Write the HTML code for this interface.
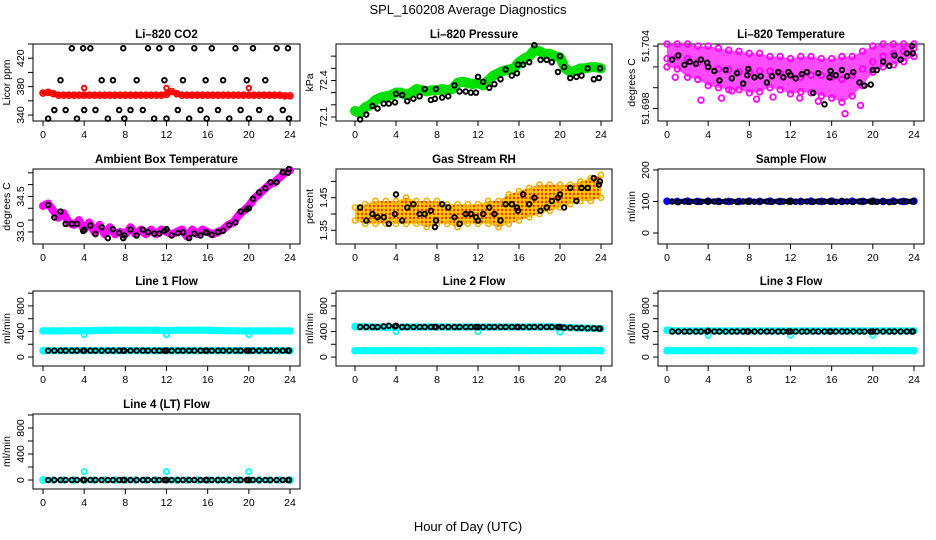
<!DOCTYPE html>
<html><head><meta charset="utf-8"><style>
html,body{margin:0;padding:0;background:#fff;}
svg{display:block;font-family:"Liberation Sans",sans-serif;}
</style></head><body>
<svg id="c" width="936" height="540" viewBox="0 0 936 540" xmlns="http://www.w3.org/2000/svg">
<defs>
<pattern id="rhdots" width="4" height="4" patternUnits="userSpaceOnUse"><rect width="4" height="4" fill="#f8c800"/><circle cx="2" cy="2" r="1.2" fill="#f03010"/></pattern>
</defs>
<text x="468" y="14" text-anchor="middle" font-size="13">SPL_160208  Average Diagnostics</text>
<text x="468" y="531" text-anchor="middle" font-size="13">Hour of Day (UTC)</text>
</svg>
<script>
// ---- data ----
const H = [0.5,1.1,1.7,2.2,2.8,3.3,3.9,4.0,4.6,5.1,5.7,6.3,6.8,7.4,7.8,7.9,8.5,9.1,9.7,10.2,10.8,11.3,11.8,12.0,12.5,13.1,13.6,14.2,14.7,15.3,15.8,15.9,16.4,17.0,17.5,18.1,18.7,19.2,19.8,20.0,20.4,21.0,21.6,22.1,22.7,23.3,23.8,23.9];
const HH = [0,0.5,1,1.5,2,2.5,3,3.5,4,4.5,5,5.5,6,6.5,7,7.5,8,8.5,9,9.5,10,10.5,11,11.5,12,12.5,13,13.5,14,14.5,15,15.5,16,16.5,17,17.5,18,18.5,19,19.5,20,20.5,21,21.5,22,22.5,23,23.5,24];
const HR = [0,1,2,3,4,5,6,7,8,9,10,11,12,13,14,15,16,17,18,19,20,21,22,23,24];
const xTicks = [0,4,8,12,16,20,24];
const outH = [4,12,20];

const co2Black = [335,347,389,347,434,335,434,347,434,347,389,335,389,347,434,335,347,389,347,434,335,434,389,335,434,347,389,335,434,347,389,335,434,347,389,335,434,347,389,335,434,347,389,335,434,347,434,335];
const co2Red = [371,372,370,368,368,368,368,368,368,368,368,368,368,368,368,368,368,368,368,368,368,368,368,368,369,373,370,368,368,368,368,368,368,368,368,368,368,368,368,368,368,368,368,368,368,368,368,367,367];
const co2Out = [378,378,378];

const presBlack = [72.08,72.12,72.19,72.17,72.21,72.21,72.22,72.29,72.28,72.23,72.25,72.27,72.33,72.24,72.25,72.33,72.26,72.27,72.36,72.31,72.31,72.30,72.30,72.43,72.39,72.34,72.37,72.41,72.49,72.44,72.46,72.53,72.53,72.55,72.69,72.57,72.57,72.55,72.47,72.60,72.51,72.42,72.43,72.44,72.50,72.41,72.42,72.50];
const presGreen = [72.15,72.13,72.18,72.2,72.24,72.26,72.27,72.28,72.3,72.3,72.28,72.3,72.33,72.32,72.31,72.32,72.32,72.33,72.32,72.33,72.38,72.39,72.38,72.37,72.38,72.36,72.4,72.44,72.46,72.48,72.49,72.5,72.55,72.58,72.6,72.65,72.64,72.62,72.62,72.6,72.59,72.5,72.47,72.48,72.5,72.5,72.51,72.51,72.5];

const tempBlack = [51.7027,51.7031,51.7022,51.7025,51.7023,51.7027,51.7024,51.7020,51.7016,51.7007,51.7017,51.7009,51.7014,51.7004,51.7012,51.7018,51.7010,51.7011,51.7005,51.7011,51.7015,51.7010,51.7015,51.7012,51.7009,51.7013,51.7015,51.6995,51.7014,51.6984,51.7010,51.7016,51.7012,51.7017,51.7011,51.7015,51.7005,51.7002,51.7003,51.7017,51.7017,51.7025,51.7021,51.7031,51.7027,51.7033,51.7040,51.7033];
const tempHi = [51.7042,51.7042,51.7042,51.7040,51.7040,51.7038,51.7036,51.7035,51.7033,51.7033,51.7030,51.7030,51.7028,51.7030,51.7030,51.7028,51.7028,51.7030,51.7030,51.7035,51.7040,51.7042,51.7042,51.7042,51.7042];
const tempMid = [51.7028,51.7030,51.7028,51.7024,51.7020,51.7018,51.7017,51.7015,51.7015,51.7016,51.7016,51.7014,51.7012,51.7010,51.7012,51.7012,51.7010,51.7008,51.7012,51.7018,51.7025,51.7030,51.7033,51.7035,51.7038];
const tempLo = [51.7020,51.7018,51.7010,51.7008,51.7002,51.7000,51.6998,51.6998,51.6995,51.6996,51.7000,51.6998,51.6994,51.6996,51.6995,51.6992,51.6990,51.6986,51.6992,51.7002,51.7015,51.7020,51.7022,51.7025,51.7030];
const tempStrayH = [0.8,3.3,5.3,6.3,8.7,10.3,12.9,14.7,17.3,18.8];
const tempStray = [51.7010,51.6988,51.6990,51.6997,51.6989,51.6991,51.6990,51.6987,51.6975,51.6983];

const ambBlack = [34.14,33.61,33.86,33.34,33.34,33.34,33.04,33.1,33.27,32.91,33.2,32.74,33.12,32.96,32.74,32.85,33.1,32.85,33.1,32.99,32.93,32.93,33.05,33.12,32.85,32.95,32.98,32.74,32.93,32.85,32.98,32.97,32.88,32.99,33.05,33.3,33.4,33.86,33.95,34.0,34.4,34.67,34.84,35.1,35.1,35.52,35.5,35.66];
const ambMag = [34.1,34.2,33.9,33.6,33.8,33.4,33.3,33.5,33.1,33.4,33.0,33.3,32.9,33.2,32.9,33.0,32.9,33.2,32.9,33.1,32.9,33.1,32.9,33.1,33.0,32.9,33.0,33.1,32.8,33.1,32.9,33.1,33.0,32.9,33.0,33.1,33.3,33.4,33.7,33.9,34.1,34.4,34.6,34.8,35.0,35.1,35.3,35.5,35.6];

const rhBlack = [1.42,1.38,1.40,1.39,1.39,1.37,1.40,1.46,1.38,1.42,1.43,1.40,1.40,1.41,1.36,1.38,1.43,1.42,1.39,1.37,1.40,1.40,1.39,1.38,1.40,1.42,1.40,1.38,1.43,1.43,1.42,1.41,1.46,1.43,1.45,1.41,1.42,1.44,1.45,1.46,1.42,1.48,1.44,1.48,1.48,1.51,1.49,1.50];
const rhHi = [1.42,1.43,1.44,1.44,1.44,1.45,1.44,1.44,1.44,1.43,1.43,1.43,1.43,1.44,1.44,1.46,1.47,1.48,1.49,1.49,1.49,1.49,1.50,1.51,1.52];
const rhLo = [1.38,1.37,1.37,1.37,1.37,1.37,1.37,1.36,1.37,1.37,1.36,1.37,1.37,1.37,1.36,1.37,1.38,1.39,1.40,1.41,1.42,1.43,1.44,1.44,1.45];

const sampleBlack = [100,98,100,99,100,99,100,100,100,99,100,100,99,100,100,100,99,100,100,99,100,100,100,100,99,100,100,99,100,100,100,100,99,100,100,99,100,100,100,100,99,100,98,99,100,100,100,100];
const sampleBlue = [101,100,101,100,101,100,100,100,101,100,101,100,101,100,101,100,101,100,101,100,101,100,101,100,101];

const l1Black = [100,100,100,100,100,100,100,100,100,100,100,100,100,100,100,100,100,100,100,100,100,100,100,100,100,100,100,100,100,100,100,100,100,100,100,100,100,100,100,100,100,100,100,100,100,100,100,100];
const l1CyanHi = [410,410,410,412,412,415,420,420,420,420,420,420,415,420,420,420,420,415,412,410,410,410,410,410,410];
const l1CyanLo = [100,100,100,100,100,100,100,100,100,100,100,100,100,100,100,100,100,100,100,100,100,100,100,100,100];
const l1Out = [350,350,350];

const l2Black = [470,470,470,470,480,490,480,490,470,470,470,470,470,470,470,470,470,470,470,470,470,470,470,470,470,470,470,470,470,470,470,470,470,470,470,470,470,470,470,470,460,460,455,455,450,450,445,445];
const l2CyanHi = [475,472,470,465,465,470,470,470,470,470,470,470,470,470,470,470,470,470,470,475,465,460,455,450,445];
const l2CyanLo = [100,100,100,100,100,100,100,100,100,100,100,100,100,100,100,100,100,100,100,100,100,100,100,100,100];
const l2Out = [400,400,390];

const l3Black = [400,400,400,400,400,400,400,410,400,400,400,400,400,400,400,400,400,400,400,400,400,400,400,400,400,400,400,400,400,400,400,400,400,400,400,400,400,400,400,400,400,400,400,400,400,400,400,400];
const l3CyanHi = [420,410,410,410,410,410,410,410,410,410,410,410,410,410,410,410,410,410,410,410,410,410,410,410,410];
const l3CyanLo = [100,100,100,100,100,100,100,100,100,100,100,100,100,100,100,100,100,100,100,100,100,100,100,100,100];
const l3Out = [340,340,340];

const l4Black = [0,0,0,0,0,0,0,0,0,0,0,0,0,0,0,0,0,0,0,0,0,0,0,0,0,0,0,0,0,0,0,0,0,0,0,0,0,0,0,0,0,0,0,0,0,0,0,0];
const l4Cyan = [0,0,0,0,0,0,0,0,0,0,0,0,0,0,0,0,0,0,0,0,0,0,0,0,0];
const l4Out = [130,130,130];

// ---- drawing ----
const NS = "http://www.w3.org/2000/svg";
const svg = document.getElementById('c');
const COLS = [{bx:33,bw:267,x0:43,x24:290},{bx:336,bw:276,x0:355,x24:601},{bx:658,bw:266,x0:667,x24:914}];
const ROWS = [{t:44,b:121},{t:169,b:244},{t:291,b:366},{t:414,b:489}];
function mk(tag, attrs, parent){const e=document.createElementNS(NS,tag);for(const k in attrs)e.setAttribute(k,attrs[k]);(parent||svg).appendChild(e);return e;}

function panel(key,c,r,title,ylab,ymin,ymax,ticks,labels){
  const C=COLS[c],R=ROWS[r];
  const g=mk('g',{});
  
  
  const x=h=>C.x0+(C.x24-C.x0)*h/24;
  const y=v=>R.b-(v-ymin)/(ymax-ymin)*(R.b-R.t);
  const box=mk('rect',{x:C.bx,y:R.t,width:C.bw,height:R.b-R.t,fill:'none',stroke:'#000','stroke-width':1},g);
  
  
  const tt=mk('text',{x:C.bx+C.bw/2,y:R.t-6,'text-anchor':'middle','font-size':11.5,'font-weight':'bold'},g);
  tt.textContent=title;
  
  
  const xa=mk('g',{},g);
  
  
  mk('line',{x1:x(0),x2:x(24),y1:R.b,y2:R.b,stroke:'#000'},xa);
  xTicks.forEach(t=>{
    mk('line',{x1:x(t),x2:x(t),y1:R.b,y2:R.b+5,stroke:'#000'},xa);
    const tl=mk('text',{x:x(t),y:R.b+17,'text-anchor':'middle','font-size':10.5},xa);
    tl.textContent=t;
    
    
  });
  const ya=mk('g',{},g);
  
  
  mk('line',{x1:C.bx,x2:C.bx,y1:y(ticks[0]),y2:y(ticks[ticks.length-1]),stroke:'#000'},ya);
  ticks.forEach(t=>{mk('line',{x1:C.bx-5,x2:C.bx,y1:y(t),y2:y(t),stroke:'#000'},ya);});
  labels.forEach(t=>{
    const tx=C.bx-9, ty=y(t);
    const tl=mk('text',{x:tx,y:ty,'text-anchor':'middle','font-size':10.5,transform:`rotate(-90 ${tx} ${ty})`},ya);
    tl.textContent=t;
    
    
  });
  const yl=mk('text',{x:C.bx-23,y:(R.t+R.b)/2,'text-anchor':'middle','font-size':10.5,transform:`rotate(-90 ${C.bx-23} ${(R.t+R.b)/2})`},g);
  yl.textContent=ylab;
  
  
  return {g,x,y};
}
function pts(P,name,hs,vs,color,r,sw){
  const g=mk('g',{},P.g);
  
  
  hs.forEach((h,i)=>{
    const e=mk('circle',{cx:P.x(h),cy:P.y(vs[i]),r:r||2.3,fill:'none',stroke:color,'stroke-width':sw||1.9},g);
    
    
  });
}
function dense(P,name,hs,vs,color,w){
  const g=mk('g',{},P.g);
  
  
  const l=mk('polyline',{points:hs.map((h,i)=>P.x(h)+','+P.y(vs[i])).join(' '),fill:'none',stroke:color,'stroke-width':w,'stroke-linejoin':'round','stroke-linecap':'round'},g);
  
  
  hs.forEach((h,i)=>{
    const e=mk('circle',{cx:P.x(h),cy:P.y(vs[i]),r:3,fill:'none',stroke:color,'stroke-width':1.6},g);
    
    
  });
}
function band(P,name,hs,hi,lo,fill,op){
  const p=hs.map((h,i)=>P.x(h)+','+P.y(hi[i])).concat(hs.slice().reverse().map((h,j)=>P.x(h)+','+P.y(lo[hs.length-1-j])));
  const e=mk('polygon',{points:p.join(' '),fill:fill,'fill-opacity':op,stroke:'none'},P.g);
  
  
}

let P=panel('co2',0,0,'Li–820 CO2','Licor ppm',331.6,440,[340,360,380,400,420,440],[340,380,420]);
pts(P,'co2-black-series',H,co2Black,'#000');
dense(P,'co2-red-series',HH,co2Red,'#ff0000',4);
pts(P,'co2-red-outliers',outH,co2Out,'#ff0000');

P=panel('pressure',1,0,'Li–820 Pressure','kPa',72.067,72.7,[72.1,72.2,72.3,72.4,72.5,72.6],['72.1','72.4']);
dense(P,'pressure-green-series',HH,presGreen,'#00e000',10);
pts(P,'pressure-black-series',H,presBlack,'#000');

P=panel('temperature',2,0,'Li–820 Temperature','degrees C',51.6968,51.7042,[51.698,51.700,51.702,51.704],['51.698','51.704']);
band(P,'temperature-magenta-cloud',HR,tempHi,tempLo,'#ff00ff',0.7);
pts(P,'temperature-magenta-hi',HR,tempHi,'#ff00ff',2.8,1.8);
pts(P,'temperature-magenta-mid',HR,tempMid,'#ff00ff',2.8,1.8);
pts(P,'temperature-magenta-lo',HR,tempLo,'#ff00ff',2.8,1.8);
pts(P,'temperature-magenta-stray',tempStrayH,tempStray,'#ff00ff',2.8,1.8);
pts(P,'temperature-black-series',H,tempBlack,'#000');

P=panel('ambient',0,1,'Ambient Box Temperature','degrees C',32.49,35.66,[33.0,33.5,34.0,34.5,35.0,35.5],['33.0','34.5']);
dense(P,'ambient-magenta-series',HH,ambMag,'#ff00ff',8);
pts(P,'ambient-black-series',H,ambBlack,'#000');

P=panel('rh',1,1,'Gas Stream RH','percent',1.308,1.538,[1.35,1.40,1.45,1.50],['1.35','1.45']);
band(P,'rh-orange-cloud',HR,rhHi,rhLo,'url(#rhdots)',1);
pts(P,'rh-cloud-hi',HR,rhHi,'#f0b000',2.6,1.6);
pts(P,'rh-cloud-lo',HR,rhLo,'#f0b000',2.6,1.6);
pts(P,'rh-black-series',H,rhBlack,'#000');

P=panel('sample-flow',2,1,'Sample Flow','ml/min',-35,203,[0,100,200],[0,100,200]);
dense(P,'sample-blue-series',HR,sampleBlue,'#0000ff',5);
pts(P,'sample-black-series',H,sampleBlack,'#000');

const fT=[0,200,400,600,800,1000], fL=[0,400,800];
P=panel('line1-flow',0,2,'Line 1 Flow','ml/min',-140,1034,fT,fL);
dense(P,'line1-cyan-upper',HR,l1CyanHi,'#00ffff',7);
dense(P,'line1-cyan-lower',HR,l1CyanLo,'#00ffff',7);
pts(P,'line1-cyan-outliers',outH,l1Out,'#00ffff',2.6,1.8);
pts(P,'line1-black-series',H,l1Black,'#000');

P=panel('line2-flow',1,2,'Line 2 Flow','ml/min',-140,1034,fT,fL);
dense(P,'line2-cyan-upper',HR,l2CyanHi,'#00ffff',7);
dense(P,'line2-cyan-lower',HR,l2CyanLo,'#00ffff',7);
pts(P,'line2-cyan-outliers',outH,l2Out,'#00ffff',2.6,1.8);
pts(P,'line2-black-series',H,l2Black,'#000');

P=panel('line3-flow',2,2,'Line 3 Flow','ml/min',-140,1034,fT,fL);
dense(P,'line3-cyan-upper',HR,l3CyanHi,'#00ffff',7);
dense(P,'line3-cyan-lower',HR,l3CyanLo,'#00ffff',7);
pts(P,'line3-cyan-outliers',outH,l3Out,'#00ffff',2.6,1.8);
pts(P,'line3-black-series',H,l3Black,'#000');

P=panel('line4-flow',0,3,'Line 4 (LT) Flow','ml/min',-138,1015,fT,fL);
dense(P,'line4-cyan-series',HR,l4Cyan,'#00ffff',3);
pts(P,'line4-cyan-outliers',outH,l4Out,'#00ffff',2.6,1.8);
pts(P,'line4-black-series',H,l4Black,'#000');
</script>
</body></html>
